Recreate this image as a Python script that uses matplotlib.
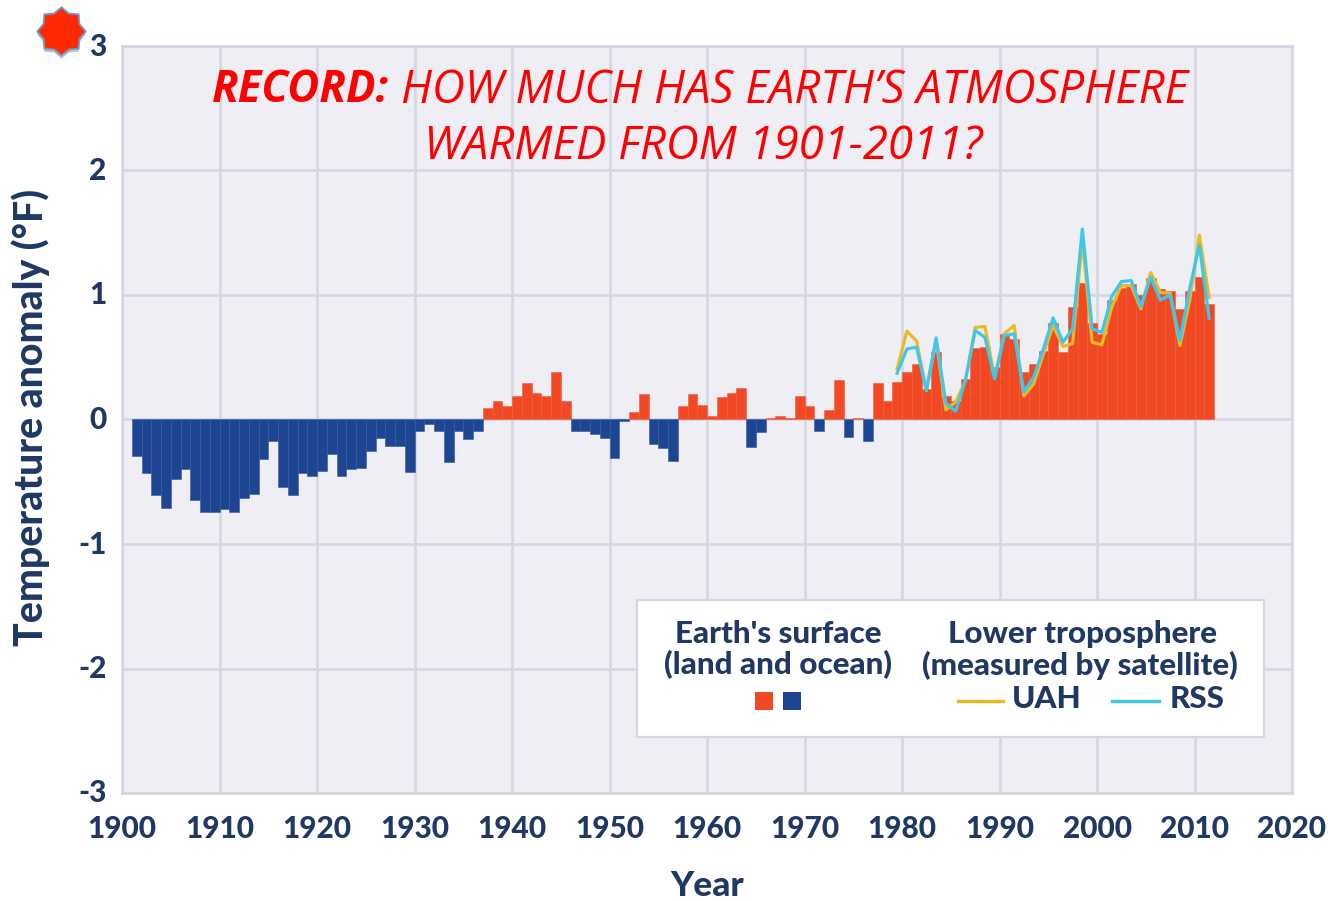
import matplotlib
matplotlib.use("Agg")
import matplotlib.pyplot as plt
from matplotlib.lines import Line2D
from matplotlib.patches import Rectangle
from matplotlib.path import Path
from matplotlib.transforms import ScaledTranslation

W, H = 1328, 901

surface_years = list(range(1901, 2012))
surface_values = [
    -0.29, -0.43, -0.61, -0.71, -0.48, -0.40, -0.65, -0.74, -0.74, -0.72,
    -0.74, -0.63, -0.60, -0.32, -0.17, -0.54, -0.61, -0.43, -0.45, -0.41,
    -0.28, -0.45, -0.40, -0.39, -0.25, -0.15, -0.21, -0.21, -0.42, -0.09,
    -0.04, -0.09, -0.34, -0.09, -0.155, -0.09,
    0.09, 0.15, 0.11, 0.19, 0.29, 0.21, 0.19, 0.385, 0.15,
    -0.09, -0.09, -0.12, -0.15, -0.31, -0.01, 0.06, 0.205, -0.195, -0.23,
    -0.33, 0.105, 0.205, 0.12, 0.03, 0.18, 0.21, 0.255, -0.22, -0.10,
    0.01, 0.025, 0.01, 0.19, 0.105, -0.09, 0.08, 0.315, -0.14, 0.01,
    -0.175, 0.29, 0.145, 0.305, 0.385, 0.447, 0.246, 0.54, 0.19, 0.15,
    0.327, 0.573, 0.58, 0.42, 0.688, 0.643, 0.38, 0.447, 0.554, 0.774,
    0.546, 0.90, 1.10, 0.776, 0.688, 0.96, 1.06, 1.09, 1.00, 1.14,
    1.05, 1.036, 0.89, 1.036, 1.143, 0.924,
]
satellite_years = list(range(1979, 2012))
uah_values = [
    0.407, 0.71, 0.63, 0.233, 0.635, 0.078, 0.14, 0.31, 0.74, 0.747, 0.34,
    0.69, 0.755, 0.19, 0.286, 0.527, 0.755, 0.586, 0.61, 1.44, 0.62, 0.60,
    0.90, 1.076, 1.076, 0.89, 1.18, 1.02, 1.015, 0.595, 0.955, 1.48, 0.98,
]
rss_values = [
    0.372, 0.568, 0.58, 0.233, 0.656, 0.13, 0.067, 0.313, 0.715, 0.66, 0.327,
    0.675, 0.688, 0.22, 0.34, 0.568, 0.816, 0.62, 0.728, 1.53, 0.728, 0.70,
    0.988, 1.108, 1.116, 0.908, 1.143, 0.96, 1.0, 0.635, 1.05, 1.40, 0.814,
]
x_ticks = list(range(1900, 2021, 10))
y_ticks = [-3, -2, -1, 0, 1, 2, 3]

RED = "#f04923"
BLUE = "#1d4591"
UAH = "#edb922"
RSS = "#3cc8ee"
INK = "#1f3864"
BG = "#f0eef5"
GRID = "#d6d6e2"
FONT = "Lato"
HEAVY = 900

plt.rcParams["font.family"] = [FONT, "DejaVu Sans"]
plt.rcParams["axes.unicode_minus"] = False


def fx(px):
    return px / W


def fy(py):
    return 1 - py / H


fig = plt.figure(figsize=(W / 100, H / 100), dpi=100, facecolor="white")
ax = fig.add_axes([fx(122), fy(793), fx(1292 - 122), fy(46) - fy(793)], facecolor=BG)
ax.set_xlim(1900, 2020)
ax.set_ylim(-3, 3)
ax.set_xticks(x_ticks)
ax.set_yticks(y_ticks)
ax.grid(True, color=GRID, lw=1.9, zorder=0)
ax.set_axisbelow(True)
ax.tick_params(length=0, labelsize=21.5, labelcolor=INK)
ax.tick_params(axis="x", pad=16)
ax.tick_params(axis="y", pad=11)
shift_up = ScaledTranslation(0, 2 / 100, fig.dpi_scale_trans)
for lab in ax.get_xticklabels():
    lab.set_fontweight(HEAVY)
for lab in ax.get_yticklabels():
    lab.set_fontweight(HEAVY)
    lab.set_transform(lab.get_transform() + shift_up)
for s in ax.spines.values():
    s.set_color(GRID)
    s.set_linewidth(1.9)

colors = [RED if v >= 0 else BLUE for v in surface_values]
edge = ["#f2593a" if v >= 0 else "#3557a0" for v in surface_values]
ax.bar(surface_years, surface_values, width=1, align="edge", color=colors,
       edgecolor=edge, linewidth=0.4, zorder=2)
ax.plot([y + 0.5 for y in satellite_years], uah_values, color=UAH, lw=2.3, zorder=3)
ax.plot([y + 0.5 for y in satellite_years], rss_values, color=RSS, lw=2.3, zorder=4)

fig.text(fx(707), fy(886), "Year", ha="center", va="center", fontsize=25.5,
         fontweight=HEAVY, color=INK)
fig.text(fx(31), fy(417), "Temperature anomaly (°F)", rotation=90, ha="center",
         va="center", fontsize=28.3, fontweight=HEAVY, color=INK)

# Title
TITLE_FONT = "Open Sans"
fig.text(fx(389), fy(91), "RECORD:", ha="right", va="center", fontsize=31.5,
         fontweight="bold", fontstyle="italic", color="#ff0000", family=TITLE_FONT)
fig.text(fx(401), fy(91), "HOW MUCH HAS EARTH’S ATMOSPHERE", ha="left", va="center",
         fontsize=32.8, fontstyle="italic", color="#ff0000", family=TITLE_FONT)
fig.text(fx(703), fy(147), "WARMED FROM 1901-2011?", ha="center", va="center",
         fontsize=32.8, fontstyle="italic", color="#ff0000", family=TITLE_FONT)

# Legend panel
fig.add_artist(Rectangle((fx(637), fy(737)), fx(1264 - 637), fy(600) - fy(737),
                         transform=fig.transFigure, facecolor="white",
                         edgecolor=GRID, linewidth=1.6, zorder=5))
leg = dict(ha="center", va="center", fontsize=22.6, fontweight=HEAVY, color=INK, zorder=6)
fig.text(fx(778), fy(634), "Earth's surface", **leg)
fig.text(fx(778), fy(665), "(land and ocean)", **leg)
fig.text(fx(1083), fy(634), "Lower troposphere", **leg)
fig.text(fx(1080), fy(665), "(measured by satellite)", **leg)
fig.text(fx(1047), fy(699), "UAH", **leg)
fig.text(fx(1197), fy(699), "RSS", **leg)
for left, col in [(755, RED), (783, BLUE)]:
    fig.add_artist(Rectangle((fx(left), fy(710)), fx(18), fy(692) - fy(710),
                             transform=fig.transFigure, facecolor=col,
                             edgecolor="none", zorder=6))
for a, b, col in [(958, 1003, UAH), (1112, 1159, RSS)]:
    fig.add_artist(Line2D([fx(a), fx(b)], [fy(701), fy(701)], color=col, lw=2.4,
                          transform=fig.transFigure, zorder=6))

# Badge
star = Path.unit_regular_star(8, innerCircle=0.8)
badge = Line2D([fx(61)], [fy(31)], marker=star, ms=35, mfc="#ff2a00", mec="#6d9ed0",
               mew=1.3, ls="none", transform=fig.transFigure, zorder=7)
fig.add_artist(Line2D([fx(61)], [fy(34)], marker=star, ms=35, mfc="#555555", mec="none",
                      alpha=0.35, ls="none", transform=fig.transFigure, zorder=6.5))
fig.add_artist(badge)

fig.savefig("out.png", dpi=100, facecolor="white")
